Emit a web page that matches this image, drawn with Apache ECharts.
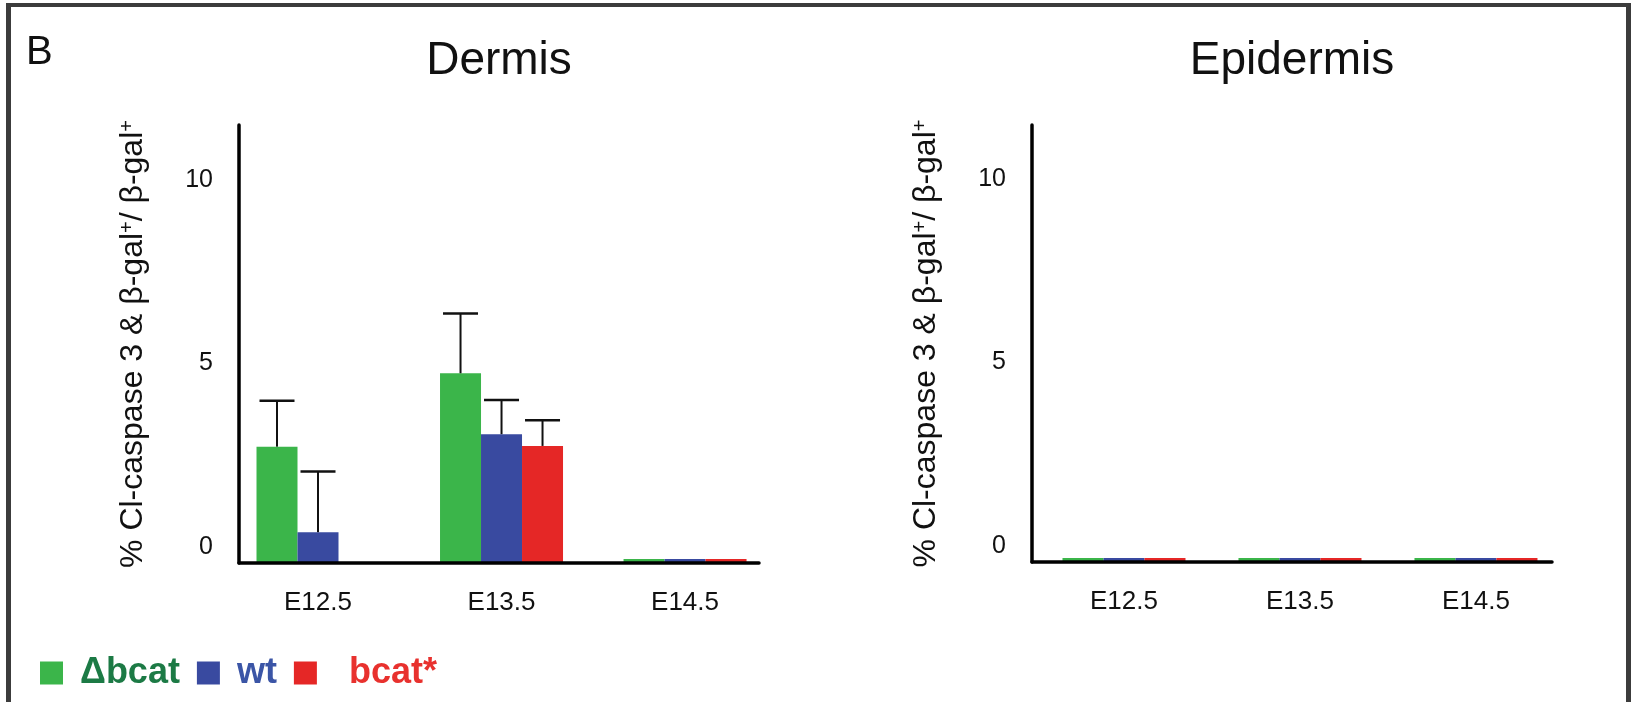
<!DOCTYPE html>
<html>
<head>
<meta charset="utf-8">
<title>Cl-caspase 3 / beta-gal</title>
<style>
html, body { margin: 0; padding: 0; background: #fff; overflow: hidden; }
#container { position: absolute; left: 0; top: 0; width: 1635px; height: 702px; }
#frame { position: absolute; left: 6px; top: 3px; width: 1625px; height: 760px; box-sizing: border-box;
  border: 5px solid #3c3c3c; border-top-width: 4px; border-bottom: none; pointer-events: none; }
</style>
</head>
<body>
<div id="container"></div>
<div id="frame"></div>
<script src="https://cdn.jsdelivr.net/npm/echarts@6/dist/echarts.min.js"></script>
<script>
// data
var categories = ['E12.5', 'E13.5', 'E14.5'];
var seriesNames = ['Δbcat', 'wt', 'bcat*'];
var yTicks = [0, 5, 10];

// Dermis
var dermisDbcat = [3.17, 5.17, 0.11];
var dermisWt = [0.84, 3.51, 0.11];
var dermisBcat = [null, 3.19, 0.11];
var dermisDbcatErr = [1.25, 1.63, null];
var dermisWtErr = [1.65, 0.93, null];
var dermisBcatErr = [null, 0.70, null];

// Epidermis
var epiDbcat = [0.11, 0.11, 0.11];
var epiWt = [0.11, 0.11, 0.11];
var epiBcat = [0.11, 0.11, 0.11];

var barColors = ['#3bb54a', '#394aa0', '#e52726'];
var textColors = ['#1c7a45', '#3b55a6', '#e8312e'];
var font = 'Liberation Sans, Arial, Helvetica, sans-serif';
var BAR_W = 41;

var myChart = echarts.init(document.getElementById('container'));

function barSeries(name, values, gi, color) {
	return {
		type: 'bar', name: name, xAxisIndex: gi, yAxisIndex: gi,
		barWidth: BAR_W, barGap: '0%',
		itemStyle: { color: color },
		data: values.map(function (v, i) { return [i, v == null ? '-' : v]; })
	};
}

function errorSeries(name, values, errs, slot) {
	var data = [];
	values.forEach(function (v, i) {
		if (v != null && errs[i] != null) data.push([i, v, errs[i]]);
	});
	return {
		type: 'custom', name: name + ' err', xAxisIndex: 0, yAxisIndex: 0, z: 4,
		encode: { x: 0, y: 1 },
		data: data,
		renderItem: function (params, api) {
			var base = api.coord([api.value(0), api.value(1)]);
			var top = api.coord([api.value(0), api.value(1) + api.value(2)]);
			var x = base[0] + (slot - 1) * BAR_W;
			return {
				type: 'group',
				children: [
					{ type: 'line', shape: { x1: x, y1: base[1], x2: x, y2: top[1] }, style: { stroke: '#111', lineWidth: 2 } },
					{ type: 'line', shape: { x1: x - 17.5, y1: top[1], x2: x + 17.5, y2: top[1] }, style: { stroke: '#111', lineWidth: 2.5 } }
				]
			};
		}
	};
}

function xAxisFor(gi, min, max) {
	return {
		type: 'value', gridIndex: gi, min: min, max: max, z: 5,
		splitLine: { show: false }, axisTick: { show: false },
		axisLine: { onZero: false, lineStyle: { color: '#000', width: 3.5 } },
		axisLabel: {
			customValues: [0, 1, 2], margin: 27, color: '#111', fontSize: 26, fontFamily: font,
			formatter: function (v) { return categories[Math.round(v)]; }
		}
	};
}

function yAxisFor(gi, max) {
	return {
		type: 'value', gridIndex: gi, min: 0, max: max, z: 5,
		splitLine: { show: false }, axisTick: { show: false },
		axisLine: { show: true, onZero: false, lineStyle: { color: '#000', width: 3.5 } },
		axisLabel: {
			// labels sit a little above their tick in the original figure
			customValues: yTicks, margin: 26, color: '#111', fontSize: 25, fontFamily: font,
			lineHeight: 32,
			formatter: function (v) { return v + '\n'; }
		},
		name: '{a|% Cl-caspase 3 & β-gal}{s|+}{a|/ β-gal}{s|+}',
		nameLocation: 'middle', nameRotate: 90, nameGap: 90,
		nameTextStyle: {
			color: '#111', fontFamily: font, fontSize: 32,
			rich: {
				a: { fontSize: 32, fontFamily: font, color: '#111' },
				s: { fontSize: 20, fontFamily: font, color: '#111', verticalAlign: 'top' }
			}
		}
	};
}

var option = {
	animation: false,
	backgroundColor: '#fff',
	title: [
		{ text: 'B', left: 26, top: 33, padding: 0, textStyle: { fontSize: 40, fontWeight: 'normal', color: '#111', fontFamily: font } },
		{ text: 'Dermis', left: 499, top: 38, padding: 0, textAlign: 'center', textStyle: { fontSize: 46, fontWeight: 'normal', color: '#111', fontFamily: font } },
		{ text: 'Epidermis', left: 1292, top: 38, padding: 0, textAlign: 'center', textStyle: { fontSize: 46, fontWeight: 'normal', color: '#111', fontFamily: font } }
	],
	legend: {
		left: 40, top: 655, padding: 0, icon: 'rect', itemWidth: 23, itemHeight: 23, itemGap: 17,
		selectedMode: false,
		data: seriesNames.map(function (n, i) {
			return {
				name: n,
				textStyle: { color: textColors[i], fontWeight: 'bold', fontSize: 36, fontFamily: font,
					padding: [0, 0, 0, i === 2 ? 27 : 12] }
			};
		})
	},
	grid: [
		{ left: 239, top: 125, width: 520, height: 438 },
		{ left: 1032, top: 125, width: 520, height: 437 }
	],
	xAxis: [xAxisFor(0, -0.4305, 2.403), xAxisFor(1, -0.5227, 2.432)],
	yAxis: [yAxisFor(0, 11.935), yAxisFor(1, 11.907)],
	series: [
		barSeries(seriesNames[0], dermisDbcat, 0, barColors[0]),
		barSeries(seriesNames[1], dermisWt, 0, barColors[1]),
		barSeries(seriesNames[2], dermisBcat, 0, barColors[2]),
		barSeries(seriesNames[0], epiDbcat, 1, barColors[0]),
		barSeries(seriesNames[1], epiWt, 1, barColors[1]),
		barSeries(seriesNames[2], epiBcat, 1, barColors[2]),
		errorSeries(seriesNames[0], dermisDbcat, dermisDbcatErr, 0),
		errorSeries(seriesNames[1], dermisWt, dermisWtErr, 1),
		errorSeries(seriesNames[2], dermisBcat, dermisBcatErr, 2)
	]
};

myChart.setOption(option);
</script>
</body>
</html>
